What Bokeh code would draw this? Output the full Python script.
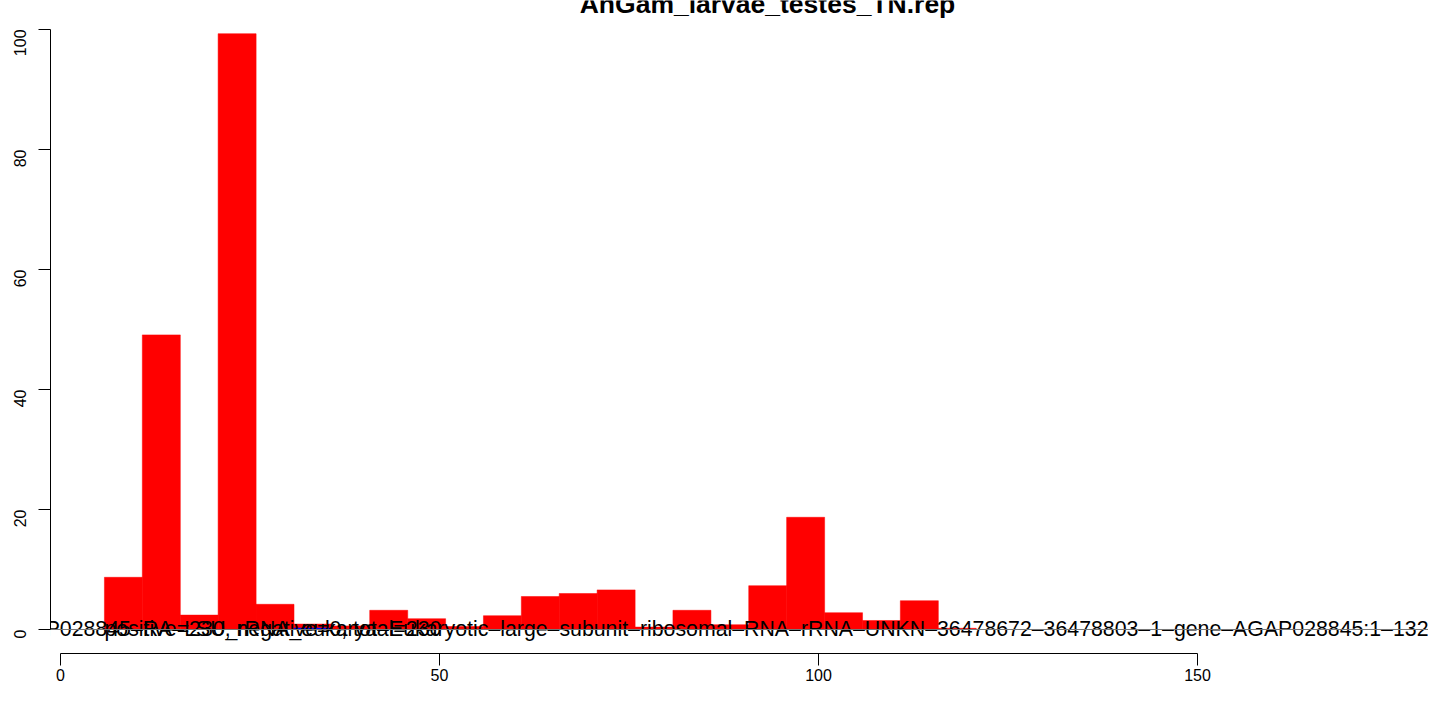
import math
from bokeh.plotting import figure
from bokeh.models import Range1d, FixedTicker, Span, Label, ColumnDataSource
from bokeh.core.properties import value
from bokeh.embed import file_html
from bokeh.resources import INLINE

# ---- data ----
title_text = "AnGam_larvae_testes_TN.rep"
bin_centers = [8.3, 13.3, 18.3, 23.3, 28.3, 33.3, 38.3, 43.3, 48.3, 53.3, 58.3, 63.3,
               68.3, 73.3, 78.3, 83.3, 88.3, 93.3, 98.3, 103.3, 108.3, 113.3, 118.3]
positive_counts = [8.7, 49.1, 2.4, 99.3, 4.2, 0.9, 0.6, 3.2, 1.8, 0.5, 2.3, 5.5,
                   6.0, 6.6, 0.4, 3.2, 0.8, 7.3, 18.7, 2.8, 1.5, 4.8, 0.2]
negative_bins = [33.3]
negative_counts = [0.3]
x_ticks = [0, 50, 100, 150]
y_ticks = [0, 20, 40, 60, 80, 100]
feature_label = ("AGAP028845\u2013RA\u2013LSU_rRNA_eukarya\u2013Eukaryotic\u2013large\u2013subunit"
                 "\u2013ribosomal\u2013RNA\u2013rRNA\u2013UNKN\u201336478672\u201336478803\u20131"
                 "\u2013gene\u2013AGAP028845:1\u2013132")
summary_label = "positive=230, negative=0, total=230"

FONT = "Liberation Sans"

p = figure(width=1428, height=688, output_backend="svg", toolbar_location=None,
           x_range=Range1d(-1.319, 180.47), y_range=Range1d(-4.0, 104.83),
           min_border_left=50, min_border_right=0, min_border_top=0, min_border_bottom=35)
p.outline_line_color = None
p.xgrid.visible = False
p.ygrid.visible = False
p.background_fill_color = "white"
p.border_fill_color = "white"

src = ColumnDataSource(dict(x=bin_centers, top=positive_counts))
p.vbar(x="x", top="top", bottom=0, width=5.013, source=src,
       fill_color="#FF0000", line_color="#FF0000", line_width=0.5)
nsrc = ColumnDataSource(dict(x=negative_bins, top=negative_counts))
p.vbar(x="x", top="top", bottom=0, width=5.013, source=nsrc,
       fill_color="#0000FF", line_color=None)

p.add_layout(Span(location=0, dimension="width", line_color="#777777", line_width=1))

p.text(x=[180.47], y=[0], text=[feature_label], text_align="right",
       text_baseline="alphabetic", text_font=value(FONT),
       text_font_size="21.3px", text_color="black")
p.text(x=[5.8], y=[0], text=[summary_label], text_align="left",
       text_baseline="alphabetic", text_font=value(FONT),
       text_font_size="21.3px", text_color="black")

p.add_layout(Label(x=93.27, y=104.2, text=title_text, text_align="center",
                   text_baseline="alphabetic", text_font=FONT,
                   text_font_size="26.5px", text_font_style="bold", text_color="black"))

for ax in (p.xaxis[0], p.yaxis[0]):
    ax.minor_tick_line_color = None
    ax.major_tick_in = 0
    ax.major_tick_out = 12
    ax.axis_line_color = "black"
    ax.major_tick_line_color = "black"
    ax.axis_line_width = 1
    ax.major_label_text_font = FONT
    ax.major_label_text_font_size = "16px"
    ax.major_label_text_color = "black"

p.xaxis[0].ticker = FixedTicker(ticks=x_ticks)
p.xaxis[0].bounds = (0, 150)
p.xaxis[0].major_label_standoff = 3
p.yaxis[0].ticker = FixedTicker(ticks=y_ticks)
p.yaxis[0].bounds = (0, 100)
p.yaxis[0].major_label_orientation = math.pi / 2
p.yaxis[0].major_label_standoff = 18

open("out.html", "w").write(file_html(p, INLINE))
